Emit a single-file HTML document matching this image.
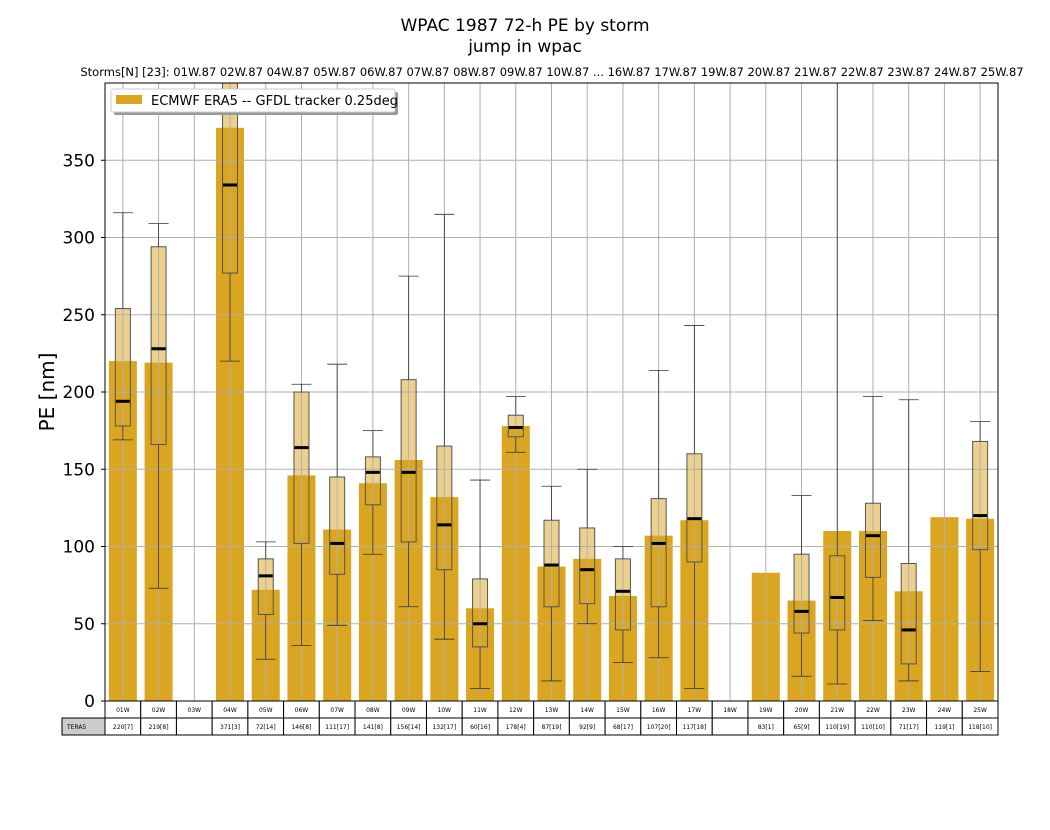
<!DOCTYPE html>
<html><head><meta charset="utf-8"><style>
body{margin:0;background:#fff;font-family:"Liberation Sans","DejaVu Sans",sans-serif}
</style></head><body>
<svg id="chart" width="1050" height="825" xmlns="http://www.w3.org/2000/svg" font-family="DejaVu Sans, Liberation Sans, sans-serif">
<rect width="1050" height="825" fill="#fff"/>
<text x="525" y="31" text-anchor="middle" font-size="17">WPAC 1987 72-h PE by storm</text>
<text x="525" y="52" text-anchor="middle" font-size="17">jump in wpac</text>
<text x="552" y="76" text-anchor="middle" font-size="11.5">Storms[N] [23]:  01W.87 02W.87 04W.87 05W.87 06W.87 07W.87 08W.87 09W.87 10W.87 ... 16W.87 17W.87 19W.87 20W.87 21W.87 22W.87 23W.87 24W.87 25W.87</text>
<text transform="translate(54,392) rotate(-90)" text-anchor="middle" font-size="20">PE [nm]</text>
<g id="plot"></g>
</svg>
<script>
const categories=["01W","02W","03W","04W","05W","06W","07W","08W","09W","10W","11W","12W","13W","14W","15W","16W","17W","18W","19W","20W","21W","22W","23W","24W","25W"];
const means=[220,219,null,371,72,146,111,141,156,132,60,178,87,92,68,107,117,null,83,65,110,110,71,119,118];
const counts=[7,8,null,3,14,8,17,8,14,17,16,4,19,9,17,20,18,null,1,9,19,10,17,1,10];
const whisLo=[169,73,null,220,27,36,49,95,61,40,8,161,13,50,25,28,8,null,null,16,11,52,13,null,19];
const q1=[178,166,null,277,56,102,82,127,103,85,35,171,61,63,46,61,90,null,null,44,46,80,24,null,98];
const medians=[194,228,null,334,81,164,102,148,148,114,50,177,88,85,71,102,118,null,null,58,67,107,46,null,120];
const q3=[254,294,null,420,92,200,145,158,208,165,79,185,117,112,92,131,160,null,null,95,94,128,89,null,168];
const whisHi=[316,309,null,420,103,205,218,175,275,315,143,197,139,150,100,214,243,null,null,133,420,197,195,null,181];
const yTicks=[0,50,100,150,200,250,300,350];

const NS="http://www.w3.org/2000/svg";
const X0=105,X1=998,Y0=701,Y1=83,YMAX=400;
const cw=(X1-X0)/categories.length;
const xc=i=>X0+cw*(i+0.5);
const y=v=>Y0-(Math.min(v,YMAX))/YMAX*(Y0-Y1);
const g=document.getElementById('plot');
function el(t,a,p){const e=document.createElementNS(NS,t);for(const k in a)e.setAttribute(k,a[k]);(p||g).appendChild(e);return e;}

categories.forEach((c,i)=>{
  if(q1[i]==null)return;
  const b=el('rect',{x:xc(i)-7.5,y:y(q3[i]),width:15,height:y(q1[i])-y(q3[i]),fill:'#ecd08e'});
  
  
});
categories.forEach((c,i)=>{
  if(means[i]==null)return;
  const r=el('rect',{x:xc(i)-14,y:y(means[i]),width:28,height:Y0-y(means[i]),fill:'#daa520'});
  
  
});
yTicks.forEach(t=>{
  const l=el('line',{x1:X0,x2:X1,y1:y(t),y2:y(t),stroke:'#b0b0b0','stroke-width':1});
  
  
  const tx=el('text',{x:X0-10,y:y(t)+6,'text-anchor':'end','font-size':17});
  tx.textContent=t;
  
  
  el('line',{x1:X0-4,x2:X0,y1:y(t),y2:y(t),stroke:'#000'});
});
categories.forEach((c,i)=>{
  const l=el('line',{x1:xc(i),x2:xc(i),y1:Y1,y2:Y0,stroke:'#b0b0b0','stroke-width':1});
  
  
});
categories.forEach((c,i)=>{
  if(q1[i]==null)return;
  const x=xc(i);
  const o=el('rect',{x:x-7.5,y:y(q3[i]),width:15,height:y(q1[i])-y(q3[i]),fill:'none',stroke:'#555','stroke-width':1});
  
  
  el('line',{x1:x,x2:x,y1:y(q1[i]),y2:y(whisLo[i]),stroke:'#333','stroke-width':0.8});
  el('line',{x1:x,x2:x,y1:y(q3[i]),y2:y(whisHi[i]),stroke:'#333','stroke-width':0.8});
  el('line',{x1:x-10,x2:x+10,y1:y(whisLo[i]),y2:y(whisLo[i]),stroke:'#333','stroke-width':0.8});
  if(whisHi[i]<YMAX)el('line',{x1:x-10,x2:x+10,y1:y(whisHi[i]),y2:y(whisHi[i]),stroke:'#333','stroke-width':0.8});
  const m=el('line',{x1:x-7,x2:x+7,y1:y(medians[i]),y2:y(medians[i]),stroke:'#000','stroke-width':3});
  
  
});
el('rect',{x:X0,y:Y1,width:X1-X0,height:Y0-Y1,fill:'none',stroke:'#000','stroke-width':1});
const lg=el('g',{});


el('rect',{x:114,y:92,width:284,height:23,fill:'#999',rx:2},lg);
el('rect',{x:111,y:89,width:284,height:23,fill:'#fff',stroke:'#ccc',rx:2},lg);
el('rect',{x:116,y:95,width:26,height:9,fill:'#daa520'},lg);
const lt=el('text',{x:151,y:105,'font-size':13},lg);
lt.textContent='ECMWF ERA5 -- GFDL tracker 0.25deg';


const tg=el('g',{});


el('rect',{x:62,y:718,width:43,height:17,fill:'#ccc',stroke:'#000'},tg);
const rl=el('text',{x:67,y:729,'font-size':6},tg);rl.textContent='TERA5';
categories.forEach((c,i)=>{
  const x=X0+cw*i;
  el('rect',{x:x,y:701,width:cw,height:17,fill:'#fff',stroke:'#000'},tg);
  el('rect',{x:x,y:718,width:cw,height:17,fill:'#fff',stroke:'#000'},tg);
  const h=el('text',{x:x+cw/2,y:712,'text-anchor':'middle','font-size':6},tg);
  h.textContent=c;
  
  
  if(means[i]!=null){
    const v=el('text',{x:x+cw/2,y:729,'text-anchor':'middle','font-size':6},tg);
    v.textContent=means[i]+'['+counts[i]+']';
    
    
  }
});
</script>
</body></html>
